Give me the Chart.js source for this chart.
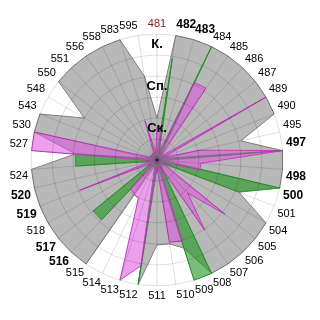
<!DOCTYPE html>
<html>
<head>
<meta charset="utf-8">
<script src="https://cdn.jsdelivr.net/npm/chart.js@4.4.0/dist/chart.umd.min.js"></script>
<style>
  html, body { margin: 0; background: #fff; }
  #wrap { width: 320px; height: 320px; }
</style>
</head>
<body>
<div id="wrap"><canvas id="myChart"></canvas></div>
<script>
// categories clockwise from the top
const categories = ['481', '482', '483', '484', '485', '486', '487', '489', '490', '495',
    '497', '498', '500', '501', '504', '505', '506', '507', '508', '509',
    '510', '511', '512', '513', '514', '515', '516', '517', '518', '519',
    '520', '524', '527', '530', '543', '548', '550', '551', '556', '558',
    '583', '595'];
const boldLabels = ['482', '483', '497', '498', '500', '516', '517', '519', '520'];
const redLabels = ['481'];

const grayValues = [2.0, 6, 6, 6, 6, 6, 6, 6, 6, 4.1,
    6, 6, 6, 4.2, 6, 6, 6, 6, 6, 4.4,
    4.05, 4.05, 6, 0.35, 0.4, 6, 6, 6, 6, 6,
    6, 6, 3.9, 6, 6, 4.0, 6, 6, 6, 6,
    6, 4.05];
const greenValues = [0.35, 4.9, 0.35, 6, 0.35, 0.35, 0.35, 0.35, 0.35, 0.35,
    6, 0.35, 6, 4.15, 0.35, 0.35, 0.35, 0.35, 6, 6,
    0.35, 0.35, 6, 0.35, 0.35, 0.35, 3.9, 3.9, 0.35, 0.35,
    0.35, 3.9, 3.9, 0.35, 0.35, 0.35, 0.35, 0.35, 0.35, 0.35,
    0.35, 0.35];
const pinkValues = [1.6, 1.6, 0.35, 4.1, 4.15, 0.35, 0.35, 6, 0.35, 2.1,
    6, 2.1, 2.1, 0.35, 0.35, 4.15, 2.15, 4.05, 0.35, 4.05,
    3.95, 0.35, 5.1, 6, 2.05, 1.95, 1.85, 0.35, 0.35, 3.95,
    0.35, 0.35, 6, 6, 0.35, 0.35, 0.35, 0.35, 0.35, 0.35,
    1.95, 0.35];

const tickValues = [1.5, 3.5, 5.5];
const tickLabels = ['Ск.', 'Сп.', 'К.'];

const gridColor = 'rgba(0, 0, 0, 0.13)';

const ctx = document.getElementById('myChart').getContext('2d');
const myChart = new Chart(ctx, {
    type: 'radar',
    data: {
        labels: categories,
        datasets: [{
            data: pinkValues,
            backgroundColor: 'rgba(220, 80, 220, 0.55)',
            borderColor: 'rgb(200, 60, 200)',
            borderWidth: 1,
            fill: true
        }, {
            data: greenValues,
            backgroundColor: 'rgba(30, 150, 30, 0.6)',
            borderColor: 'rgb(40, 160, 40)',
            borderWidth: 1,
            fill: true
        }, {
            data: grayValues,
            backgroundColor: 'rgb(184, 184, 184)',
            borderColor: 'rgb(128, 128, 128)',
            borderWidth: 1,
            fill: true
        }]
    },
    options: {
        responsive: true,
        maintainAspectRatio: false,
        animation: false,
        layout: {
            padding: { left: 9, right: 13, top: 11, bottom: 11 }
        },
        elements: {
            line: { tension: 0 },
            point: { radius: 0, hoverRadius: 0 }
        },
        plugins: {
            legend: { display: false },
            tooltip: { enabled: false }
        },
        scales: {
            r: {
                min: 0,
                max: 6,
                grid: {
                    z: 1,
                    circular: true,
                    color: (c) => (c.tick && Number.isInteger(c.tick.value)) ? gridColor : 'rgba(0,0,0,0)'
                },
                angleLines: { color: gridColor },
                ticks: {
                    z: 2,
                    stepSize: 0.5,
                    maxTicksLimit: 20,
                    showLabelBackdrop: false,
                    color: '#000',
                    font: { family: 'Liberation Sans, Arial', size: 13, weight: 'bold' },
                    callback: (v) => {
                        const i = tickValues.indexOf(v);
                        return i >= 0 ? tickLabels[i] : '';
                    }
                },
                pointLabels: {
                    padding: -5,
                    color: (c) => redLabels.includes(c.label) ? '#8b1a1a' : '#000',
                    font: (c) => boldLabels.includes(c.label)
                        ? { family: 'Liberation Sans, Arial', size: 12, weight: 'bold' }
                        : { family: 'Liberation Sans, Arial', size: 11 }
                }
            }
        }
    }
});
</script>
</body>
</html>
